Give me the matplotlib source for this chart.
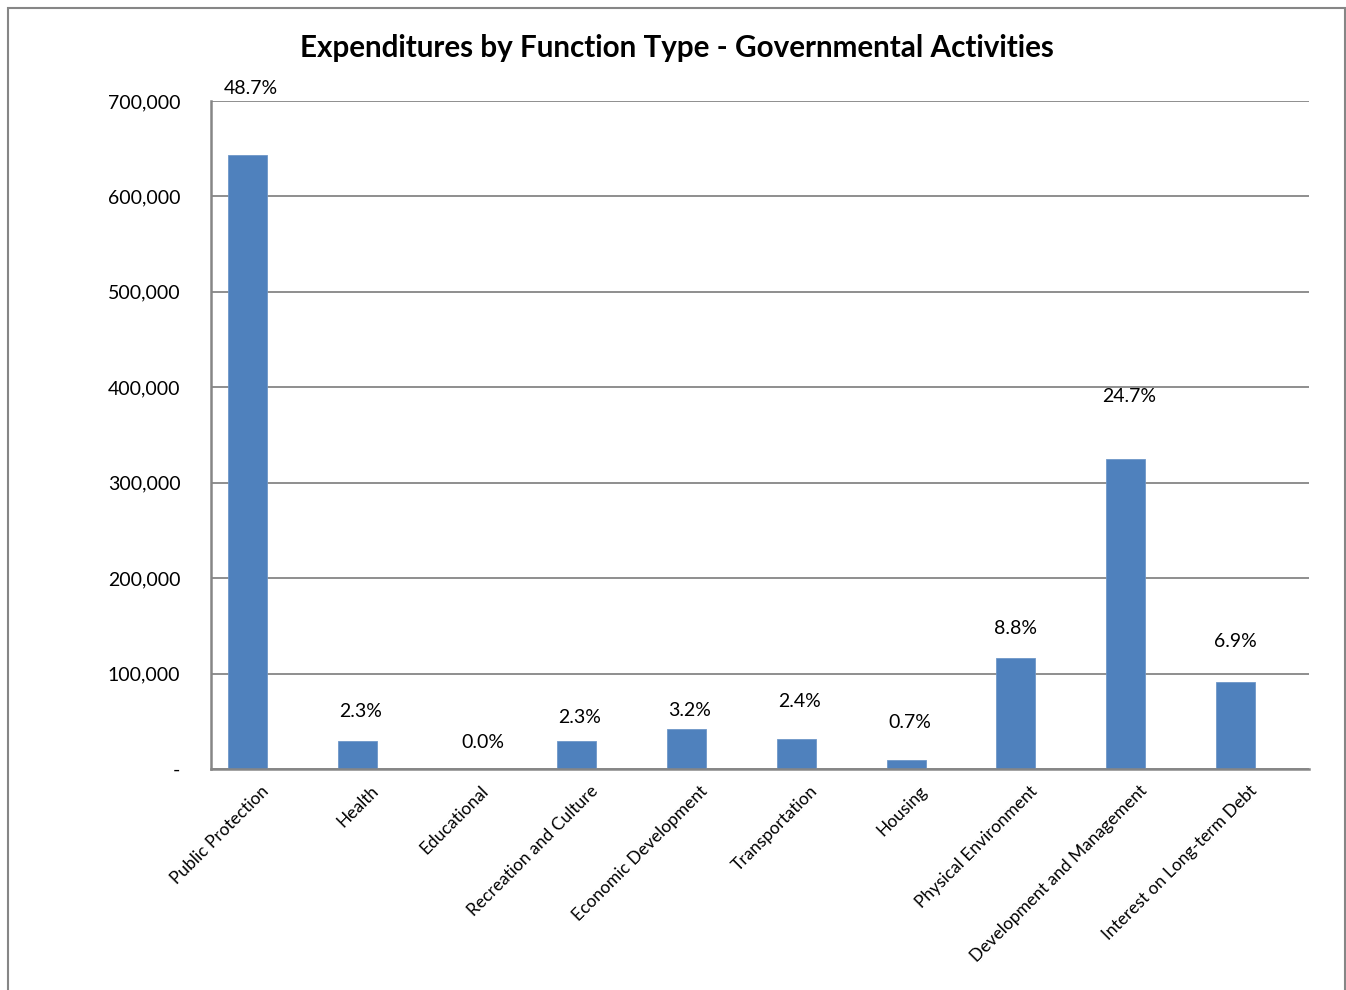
import matplotlib.pyplot as plt
import numpy as np
from matplotlib.patches import Rectangle

# data
categories = ["Public Protection", "Health", "Educational", "Recreation and Culture",
              "Economic Development", "Transportation", "Housing", "Physical Environment",
              "Development and Management", "Interest on Long-term Debt"]
amounts = [643400, 29300, 0, 29300, 41900, 31400, 9400, 116300, 324800, 91200]
percents = ["48.7%", "2.3%", "0.0%", "2.3%", "3.2%", "2.4%", "0.7%", "8.8%", "24.7%", "6.9%"]
yticks = [0, 100000, 200000, 300000, 400000, 500000, 600000, 700000]
ytick_labels = ["-", "100,000", "200,000", "300,000", "400,000", "500,000", "600,000", "700,000"]

# label offsets above bar tops (points), Excel put them unevenly
label_offsets = [48, 21, 19, 17, 13, 27, 27, 21, 45, 29]
label_dx = [0.03, 0.03, 0.15, 0.03, 0.03, 0.03, 0.03, 0.0, 0.03, 0.0]

plt.rcParams['font.family'] = ['Lato', 'DejaVu Sans']

fig = plt.figure(figsize=(13.46, 9.9), dpi=100)
ax = fig.add_axes([211/1346, 1-769/990, (1309-211)/1346, (769-101)/990])

x = np.arange(len(categories))
bar_shift = -0.17
ax.bar(x + bar_shift, amounts, width=0.355, color="#4F81BD", edgecolor="#6E97C8", linewidth=0.6, zorder=3)

for i in range(len(categories)):
    ax.annotate(percents[i], (x[i] + bar_shift + label_dx[i], amounts[i]), xytext=(0, label_offsets[i]),
                textcoords="offset points", ha="center", va="center", fontsize=14, color="black")

ax.set_xlim(-0.5, len(categories) - 0.5)
ax.set_ylim(0, 700000)
ax.set_yticks(yticks)
ax.set_yticklabels(ytick_labels, fontsize=14)
ax.set_xticks(x)
ax.set_xticklabels(categories, rotation=45, ha="right", va="center", rotation_mode="anchor", fontsize=12.5)
ax.tick_params(axis="both", length=0)
ax.tick_params(axis="y", pad=22)
ax.tick_params(axis="x", pad=14)

ax.yaxis.grid(True, color="#868686", linewidth=1.3, zorder=0)
ax.set_axisbelow(True)
for s in ["top", "right"]:
    ax.spines[s].set_visible(False)
for s in ["left", "bottom"]:
    ax.spines[s].set_color("#868686")
    ax.spines[s].set_linewidth(1.8)
    ax.spines[s].set_zorder(4)

fig.text(0.503, 1-48/990, "Expenditures by Function Type - Governmental Activities",
         ha="center", va="center", fontsize=21.3, fontweight="bold")

# outer chart border
fig.patches.append(Rectangle((8/1346, -0.05), (1345-8)/1346, 1.05-8/990, transform=fig.transFigure,
                             fill=False, edgecolor="#868686", linewidth=1.5))

fig.savefig("out.png", dpi=100, facecolor="white")
